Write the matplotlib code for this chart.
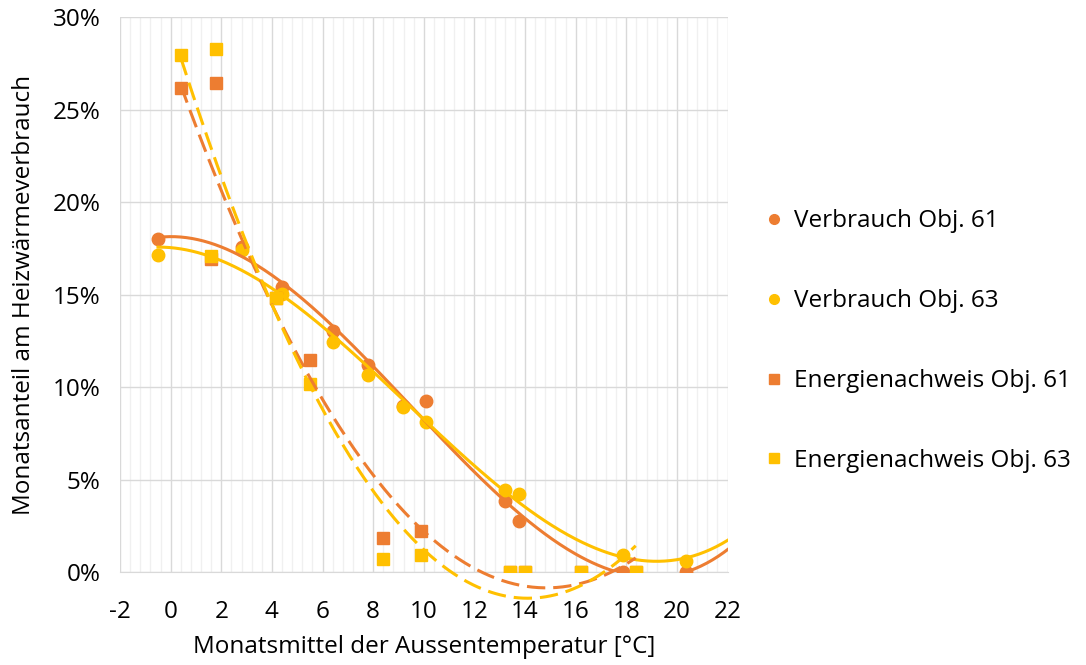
import numpy as np
import matplotlib
matplotlib.use("Agg")
import matplotlib.pyplot as plt
from matplotlib.ticker import MultipleLocator, PercentFormatter
from matplotlib.lines import Line2D

plt.rcParams['font.family'] = ['Open Sans', 'DejaVu Sans']
plt.rcParams['axes.unicode_minus'] = False

# Monatsmittel Aussentemperatur (Messung) und Monatsanteil [%]
t_verbrauch = [-0.5, 2.8, 4.38, 6.4, 7.8, 9.18, 10.08, 13.2, 13.77, 17.87, 20.37]
verbrauch_61 = [18.0, 17.57, 15.39, 13.04, 11.19, 8.97, 9.26, 3.85, 2.77, 0.0, 0.0]
verbrauch_63 = [17.14, 17.4, 15.06, 12.45, 10.65, 8.94, 8.13, 4.43, 4.2, 0.92, 0.6]

# Klimadaten Energienachweis
t_nachweis = [0.4, 1.79, 1.59, 4.18, 5.5, 8.4, 9.88, 13.4, 13.99, 16.2, 18.37]
nachweis_61 = [26.15, 26.45, 16.95, 14.8, 11.46, 1.82, 2.23, 0.0, 0.0, 0.0, 0.0]
nachweis_63 = [27.95, 28.3, 17.1, 14.8, 10.16, 0.69, 0.92, 0.0, 0.0, 0.0, 0.0]

orange = '#ED7D31'
yellow = '#FFC000'

fig = plt.figure(figsize=(10.86, 6.65), dpi=100)
ax = fig.add_axes([0.1105, 0.1398, 0.5595, 0.8342])

fs = 17.5

# Punkte
ax.plot(t_verbrauch, verbrauch_61, 'o', color=orange, ms=9, zorder=3)
ax.plot(t_verbrauch, verbrauch_63, 'o', color=yellow, ms=9, zorder=3)
ax.plot(t_nachweis, nachweis_61, 's', color=orange, ms=8.5, zorder=3)
ax.plot(t_nachweis, nachweis_63, 's', color=yellow, ms=8.5, zorder=3)

# Trendlinien (Polynom)
xs = np.linspace(min(t_verbrauch), 22, 300)
for y, c in [(verbrauch_61, orange), (verbrauch_63, yellow)]:
    p = np.polyfit(t_verbrauch, y, 3)
    ax.plot(xs, np.polyval(p, xs), '-', color=c, lw=2.2, zorder=4)

xd = np.linspace(min(t_nachweis), max(t_nachweis), 300)
for y, c in [(nachweis_61, orange), (nachweis_63, yellow)]:
    p = np.polyfit(t_nachweis, y, 2)
    ax.plot(xd, np.polyval(p, xd), '--', color=c, lw=2.2, dashes=(6, 2.6),
            zorder=4, clip_on=False)

ax.set_xlim(-2, 22)
ax.set_ylim(0, 30)
ax.xaxis.set_major_locator(MultipleLocator(2))
ax.xaxis.set_minor_locator(MultipleLocator(0.4))
ax.yaxis.set_major_locator(MultipleLocator(5))
ax.yaxis.set_major_formatter(PercentFormatter(decimals=0))

ax.grid(which='major', color='#D9D9D9', lw=1.0, zorder=0)
ax.grid(which='minor', axis='x', color='#F0F0F0', lw=1.0, zorder=0)
ax.set_axisbelow(True)
for s in ['top', 'right', 'left']:
    ax.spines[s].set_visible(False)
ax.spines['bottom'].set_color('#D9D9D9')
ax.tick_params(which='both', length=0, labelsize=fs, pad=14)
ax.tick_params(axis='x', pad=20)

ax.set_xlabel('Monatsmittel der Aussentemperatur [°C]', fontsize=fs, labelpad=8)
ax.set_ylabel('Monatsanteil am Heizwärmeverbrauch', fontsize=fs, labelpad=12)

handles = [
    Line2D([], [], ls='', marker='o', color=orange, ms=7),
    Line2D([], [], ls='', marker='o', color=yellow, ms=7),
    Line2D([], [], ls='', marker='s', color=orange, ms=7),
    Line2D([], [], ls='', marker='s', color=yellow, ms=7),
]
labels = ['Verbrauch Obj. 61', 'Verbrauch Obj. 63',
          'Energienachweis Obj. 61', 'Energienachweis Obj. 63']
fig.legend(handles, labels, loc='center left', bbox_to_anchor=(0.686, 0.487),
           frameon=False, fontsize=fs, labelspacing=2.3, handlelength=0.6,
           handletextpad=0.5)

fig.savefig('out.png', dpi=100)
